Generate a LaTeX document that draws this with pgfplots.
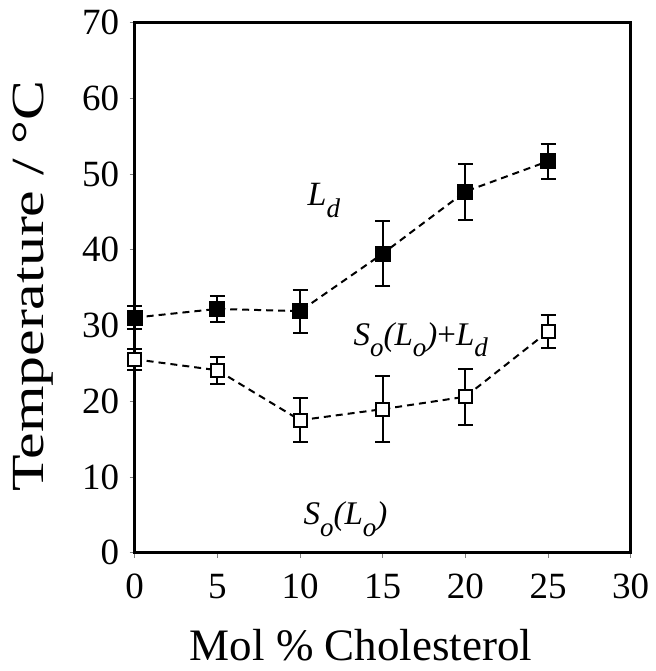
\documentclass[border=0pt]{standalone}
\usepackage{pgfplots}
\pgfplotsset{compat=1.18}
\usepackage{fontspec}
\setmainfont{Liberation Serif}
\newcommand{\sub}[1]{\raisebox{-0.35em}{\fontsize{27}{27}\selectfont\itshape #1}}
\begin{document}
\begin{tikzpicture}
\begin{axis}[
  name=ax,
  scale only axis,
  width=496pt, height=530pt,
  xmin=0, xmax=30, ymin=0, ymax=70,
  xtick={0,5,...,30}, ytick={0,10,...,70},
  xtick pos=left, ytick pos=left,
  tick align=outside,
  major tick length=5pt,
  major tick style={gray, line width=0.8pt},
  axis line style={line width=2.5pt, black},
  /pgf/number format/assume math mode=true,
  tick label style={font=\fontsize{37}{37}\selectfont, black},
  xticklabel style={yshift=-13pt},
  yticklabel style={xshift=-7pt},
  xlabel={Mol \% Cholesterol},
  ylabel={\scalebox{1.3}[1]{Temperature / °C}},
  every axis x label/.style={at={(rel axis cs:0.4565,-0.203)}, anchor=base, font=\fontsize{45}{45}\selectfont},
  every axis y label/.style={at={(rel axis cs:-0.205,0.503)}, anchor=center, rotate=90, font=\fontsize{46}{46}\selectfont},
  clip=false,
]
\addplot[black, line width=2pt, dash pattern=on 7pt off 5pt,
  mark=square*, mark size=7pt, mark options={solid, fill=black},
  error bars/.cd, y dir=both, y explicit,
  error bar style={line width=2pt, solid},
  error mark options={rotate=90, mark size=7.5pt, line width=2pt, solid}]
  coordinates {
  (0,31.05) +- (0,1.5)
  (5,32.2) +- (0,1.75)
  (10,31.9) +- (0,2.85)
  (15,39.5) +- (0,4.3)
  (20,47.7) +- (0,3.7)
  (25,51.7) +- (0,2.3)
  };
\addplot[black, line width=2pt, dash pattern=on 7pt off 5pt,
  mark=square*, mark size=6.5pt, mark options={solid, fill=white, line width=2pt},
  error bars/.cd, y dir=both, y explicit,
  error bar style={line width=2pt, solid},
  error mark options={rotate=90, mark size=7.5pt, line width=2pt, solid}]
  coordinates {
  (0,25.55) +- (0,1.4)
  (5,24.1) +- (0,1.8)
  (10,17.5) +- (0,2.9)
  (15,18.96) +- (0,4.35)
  (20,20.6) +- (0,3.7)
  (25,29.2) +- (0,2.2)
  };
\node[anchor=base west, inner sep=0pt, font=\fontsize{34}{34}\selectfont\itshape]
  at (axis cs:10.45,45.8) {L\sub{d}};
\node[anchor=base west, inner sep=0pt, font=\fontsize{33}{33}\selectfont\itshape]
  at (axis cs:13.23,27.4) {S\sub{o}(L\sub{o})\textup{+}L\sub{d}};
\node[anchor=base west, inner sep=0pt, font=\fontsize{33}{33}\selectfont\itshape]
  at (axis cs:10.2,3.7) {S\sub{o}(L\sub{o})};
\end{axis}
\pgfresetboundingbox
\path ([shift={(-134.7pt,-118.3pt)}]ax.south west) rectangle ([shift={(24.3pt,22.7pt)}]ax.north east);
\end{tikzpicture}
\end{document}
